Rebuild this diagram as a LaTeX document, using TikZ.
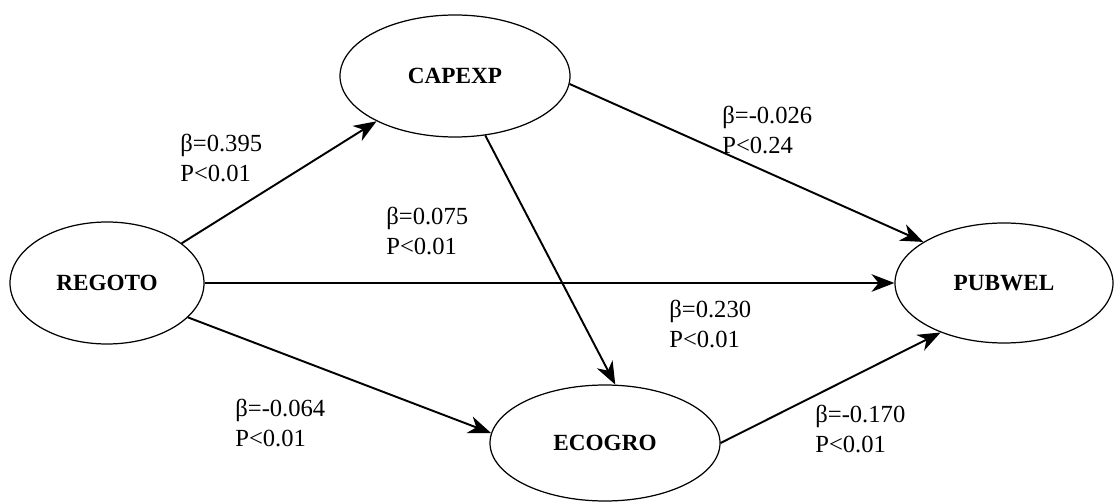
\documentclass[tikz,border=0pt]{standalone}
\usepackage{fontspec}
\setmainfont{Liberation Serif}
\usetikzlibrary{shapes.geometric,arrows.meta}

\begin{document}
\begin{tikzpicture}[
  latent/.style={draw,ellipse,line width=0.7pt,inner sep=0pt,font=\fontsize{13.2}{15}\selectfont\bfseries},
  coef/.style={anchor=west,align=left,inner sep=0pt,font=\fontsize{14}{17}\selectfont},
  link/.style={->,>={Stealth[length=13pt,width=10pt,inset=4pt]},line width=1.1pt}]
\useasboundingbox (0,0) rectangle (22.3,10.04);
\node[latent,minimum width=4.6cm,minimum height=2.44cm] (capexp) at (9.10,8.52) {CAPEXP};
\node[latent,minimum width=3.88cm,minimum height=2.44cm] (regoto) at (2.14,4.38) {REGOTO};
\node[latent,minimum width=4.36cm,minimum height=2.4cm] (pubwel) at (20.08,4.38) {PUBWEL};
\node[latent,minimum width=4.6cm,minimum height=2.32cm] (ecogro) at (12.10,1.18) {ECOGRO};
\draw[link] (regoto.28) -- (capexp.210);
\draw[link] (capexp.-63) -- (ecogro.80);
\draw[link] (capexp.-4) -- (pubwel.153);
\draw[link] (regoto.east) -- (pubwel.west);
\draw[link] (regoto.-23) -- (ecogro.175);
\draw[link] (ecogro.east) -- (pubwel.218);
\node[coef] (c1) at (3.60,6.88) {β=0.395\\P<0.01};
\node[coef] (c2) at (7.72,5.42) {β=0.075\\P<0.01};
\node[coef] (c3) at (14.44,7.44) {β=-0.026\\P<0.24};
\node[coef] (c4) at (13.38,3.56) {β=0.230\\P<0.01};
\node[coef] (c5) at (4.70,1.58) {β=-0.064\\P<0.01};
\node[coef] (c6) at (16.30,1.46) {β=-0.170\\P<0.01};
\end{tikzpicture}
\end{document}
